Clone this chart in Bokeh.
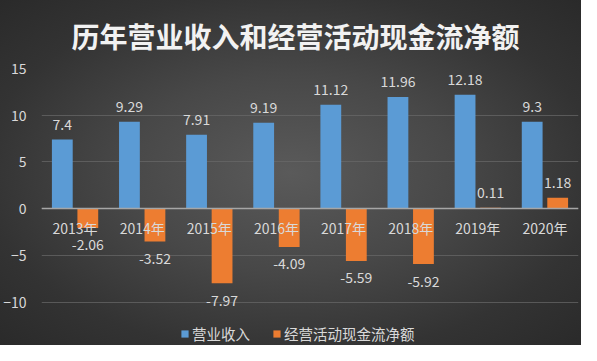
from bokeh.plotting import figure
from bokeh.models import (ColumnDataSource, FactorRange, FixedTicker, Legend,
                          LegendItem, Range1d)
from bokeh.transform import dodge
from bokeh.core.properties import value
from bokeh.embed import file_html
from bokeh.resources import INLINE

# ---- data ----
years = ["2013年", "2014年", "2015年", "2016年", "2017年", "2018年", "2019年", "2020年"]
revenue = [7.4, 9.29, 7.91, 9.19, 11.12, 11.96, 12.18, 9.3]
cashflow = [-2.06, -3.52, -7.97, -4.09, -5.59, -5.92, 0.11, 1.18]
y_ticks = [-10, -5, 0, 5, 10, 15]
series_names = ["营业收入", "经营活动现金流净额"]
title_text = "历年营业收入和经营活动现金流净额"

FONT = "Noto Sans CJK SC"
LABEL_COLOR = "#d9d9d9"
BLUE = "#5b9bd5"
ORANGE = "#ed7d31"

src = ColumnDataSource(dict(
    x=years,
    rev=revenue,
    cf=cashflow,
    rev_lbl=[str(v) for v in revenue],
    cf_lbl=[str(v) for v in cashflow],
    cf_off=[-15 if v >= 0 else 17 for v in cashflow],
))

p = figure(
    x_range=FactorRange(*years, range_padding=0),
    y_range=Range1d(-14.64, 15),
    width=581, height=345,
    output_backend="svg", toolbar_location=None,
    min_border_left=41, min_border_right=3,
    min_border_top=67, min_border_bottom=0,
)
p.styles = {"background": "radial-gradient(ellipse at 50% 50%, #5a5a5a 0%, #484848 40%, #333333 75%, #2a2a2a 100%)"}
p.background_fill_color = None
p.border_fill_color = None
p.outline_line_color = None

# title
p.title.text = title_text
p.title.align = "left"
p.title.offset = 30
p.title.standoff = 26
p.title.text_font = FONT
p.title.text_font_size = "28px"
p.title.text_font_style = "bold"
p.title.text_color = "#f2f2f2"

# bars
r1 = p.vbar(x=dodge("x", -0.19, range=p.x_range), top="rev", bottom=0, width=0.31,
            source=src, fill_color=BLUE, line_color=None)
r2 = p.vbar(x=dodge("x", 0.19, range=p.x_range), top="cf", bottom=0, width=0.31,
            source=src, fill_color=ORANGE, line_color=None)

# data labels
p.text(x=dodge("x", -0.19, range=p.x_range), y="rev", text="rev_lbl", source=src,
       text_font=value(FONT), text_font_size="14px", text_color=LABEL_COLOR,
       text_align="center", text_baseline="middle", y_offset=-15)
p.text(x=dodge("x", 0.19, range=p.x_range), y="cf", text="cf_lbl", source=src,
       text_font=value(FONT), text_font_size="14px", text_color=LABEL_COLOR,
       text_align="center", text_baseline="middle", y_offset="cf_off")

# axes
xa = p.xaxis[0]
xa.fixed_location = 0
xa.axis_line_color = "#a6a6a6"
xa.axis_line_width = 1.5
xa.major_tick_line_color = None
xa.minor_tick_line_color = None
xa.major_tick_out = 0
xa.major_tick_in = 0
xa.major_label_text_font = FONT
xa.major_label_text_font_size = "14px"
xa.major_label_text_color = LABEL_COLOR
xa.major_label_standoff = 9

ya = p.yaxis[0]
ya.ticker = FixedTicker(ticks=y_ticks)
ya.axis_line_color = None
ya.major_tick_line_color = None
ya.minor_tick_line_color = None
ya.major_tick_out = 0
ya.major_tick_in = 0
ya.minor_tick_out = 0
ya.minor_tick_in = 0
ya.major_label_text_font = FONT
ya.major_label_text_font_size = "14px"
ya.major_label_text_color = LABEL_COLOR
ya.major_label_standoff = 15

p.xgrid.grid_line_color = None
p.ygrid.ticker = FixedTicker(ticks=y_ticks)
p.ygrid.grid_line_color = "#6a6a6a"
p.ygrid.grid_line_alpha = 0.7

# legend
legend = Legend(items=[LegendItem(label=series_names[0], renderers=[r1]),
                       LegendItem(label=series_names[1], renderers=[r2])],
                orientation="horizontal", location=(139, 1),
                glyph_width=9, glyph_height=9, label_standoff=3, spacing=22,
                padding=0, margin=0, label_height=16,
                label_text_font=FONT, label_text_font_size="14.5px",
                label_text_color=LABEL_COLOR,
                border_line_color=None, background_fill_color=None)
p.add_layout(legend, "center")

open("out.html", "w").write(file_html(p, INLINE))
